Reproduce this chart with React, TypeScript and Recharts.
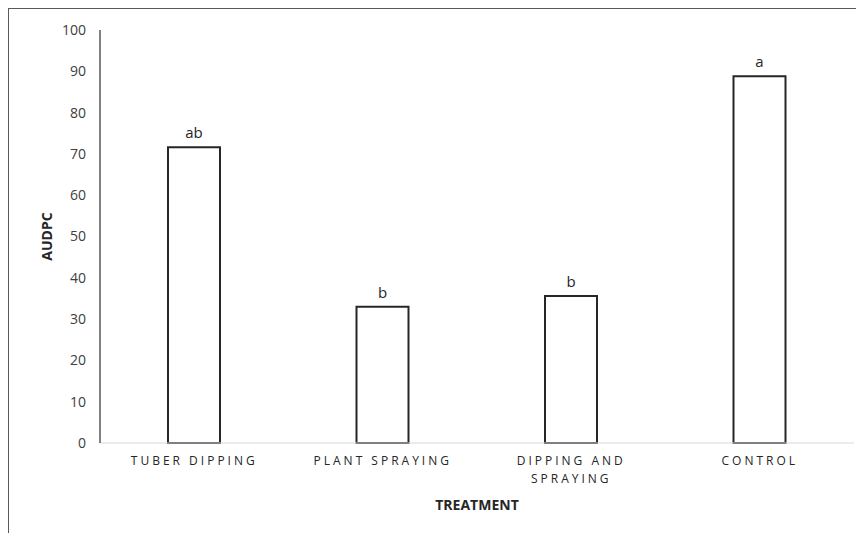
import { BarChart, Bar, XAxis, YAxis, LabelList, Label } from 'recharts';

const treatments = ['TUBER DIPPING', 'PLANT SPRAYING', 'DIPPING AND SPRAYING', 'CONTROL'];
const audpc = [71.6, 33.0, 35.6, 88.8];
const letters = ['ab', 'b', 'b', 'a'];
const yTicks = [0, 10, 20, 30, 40, 50, 60, 70, 80, 90, 100];

const FONT = '"Open Sans", "Liberation Sans", sans-serif';

const chartData = treatments.map((t, i) => ({
  treatment: t,
  value: audpc[i],
  letter: letters[i],
}));

// wrap long category names onto two lines like the original
function wrapLabel(text: string, max = 14): string[] {
  const lines: string[] = [];
  let cur = '';
  for (const w of text.split(' ')) {
    const next = cur ? cur + ' ' + w : w;
    if (next.length > max && cur) {
      lines.push(cur);
      cur = w;
    } else {
      cur = next;
    }
  }
  if (cur) lines.push(cur);
  return lines;
}

function CategoryTick(props: any) {
  const { x, y, payload } = props;
  const lines = wrapLabel(payload.value);
  return (
    <g transform={`translate(${x},${y})`}>
      {lines.map((line, i) => (
        <text
          key={i}
          x={0}
          y={i * 18}
          dy={14}
          textAnchor="middle"
          fill="#262626"
          fontSize={12}
          fontFamily={FONT}
          style={{ letterSpacing: '3px' }}
        >
          {line}
        </text>
      ))}
    </g>
  );
}

export default function App() {
  return (
    <div
      style={{
        width: 856,
        height: 525,
        borderTop: '1px solid #595959',
        borderLeft: '1px solid #595959',
        background: '#fff',
        overflow: 'hidden',
      }}
    >
      <BarChart
        width={855}
        height={524}
        data={chartData}
        margin={{ top: 21, right: 10, left: 30, bottom: 10 }}
        barCategoryGap={68}
      >
        <XAxis
          dataKey="treatment"
          tickLine={false}
          axisLine={{ stroke: '#d9d9d9', strokeWidth: 1 }}
          tick={<CategoryTick />}
          interval={0}
          height={80}
        >
          <Label
            value="TREATMENT"
            position="insideBottom"
            offset={13}
            fill="#262626"
            fontSize={14}
            fontWeight="bold"
            fontFamily={FONT}
          />
        </XAxis>
        <YAxis
          domain={[0, 100]}
          ticks={yTicks}
          width={61}
          tickLine={false}
          tickSize={0}
          tickMargin={14}
          axisLine={{ stroke: '#595959', strokeWidth: 1.5 }}
          tick={{ fill: '#404040', fontSize: 14, fontFamily: FONT }}
        >
          <Label
            value="AUDPC"
            angle={-90}
            position="insideLeft"
            offset={8}
            fill="#262626"
            fontSize={14}
            fontWeight="bold"
            fontFamily={FONT}
            style={{ textAnchor: 'middle' }}
          />
        </YAxis>
        <Bar
          dataKey="value"
          fill="#ffffff"
          stroke="#262626"
          strokeWidth={2}
          barSize={52}
          isAnimationActive={false}
        >
          <LabelList
            dataKey="letter"
            position="top"
            offset={9}
            fill="#262626"
            fontSize={15}
            fontFamily={FONT}
          />
        </Bar>
      </BarChart>
    </div>
  );
}
